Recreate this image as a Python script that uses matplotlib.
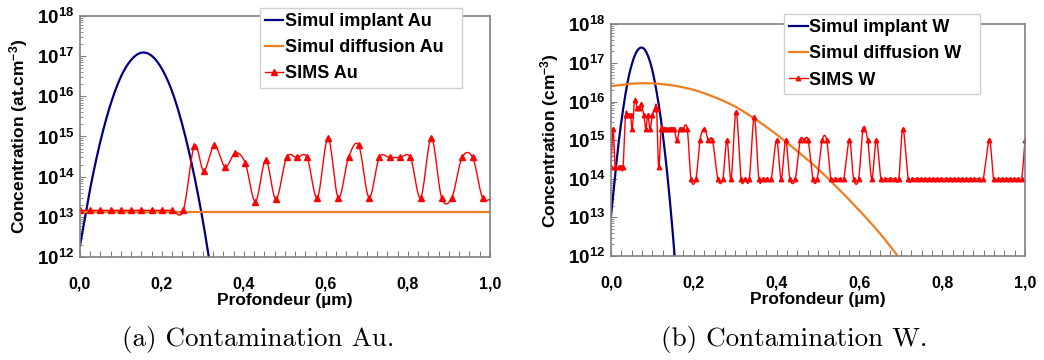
import numpy as np
import matplotlib.pyplot as plt
from matplotlib.ticker import MultipleLocator, FuncFormatter, LogLocator, NullFormatter

# ============================================================
# DATA
# ============================================================
# --- Au ---
au_implant_x = [0.000, 0.025, 0.050, 0.075, 0.100, 0.125, 0.150, 0.175,
                0.200, 0.225, 0.250, 0.275, 0.300, 0.325]
au_implant_y = [1.9e12, 5.1e13, 7.7e14, 6.5e15, 3.1e16, 8.1e16, 1.22e17, 1.02e17,
                4.8e16, 1.3e16, 1.9e15, 1.6e14, 7.7e12, 2.0e11]

au_diff_x = [0.0, 1.0]
au_diff_y = [1.32e13, 1.32e13]

au_sims_x = [0.000, 0.025, 0.050, 0.075, 0.100, 0.125, 0.150, 0.175, 0.200, 0.225,
             0.252, 0.279, 0.302, 0.328, 0.354, 0.379, 0.403, 0.428, 0.453, 0.478,
             0.504, 0.529, 0.554, 0.579, 0.605, 0.630, 0.655, 0.680, 0.705, 0.730,
             0.755, 0.780, 0.806, 0.831, 0.857, 0.882, 0.907, 0.932, 0.958, 0.982,
             1.007]
au_sims_y = [1.45e13, 1.45e13, 1.45e13, 1.45e13, 1.45e13, 1.45e13, 1.45e13, 1.45e13, 1.45e13, 1.45e13,
             1.45e13, 5.9e14, 1.4e14, 6.0e14, 1.75e14, 3.9e14, 2.2e14, 2.4e13, 2.6e14, 2.75e13,
             3.0e14, 3.0e14, 3.0e14, 3.0e13, 9.3e14, 3.0e13, 3.0e14, 6.0e14, 3.0e13, 3.0e14,
             3.0e14, 3.0e14, 3.0e14, 3.0e13, 9.3e14, 3.0e13, 3.0e13, 3.0e14, 3.0e14, 3.0e13,
             3.1e13]

# --- W ---
w_implant_x = [0.00, 0.01, 0.02, 0.03, 0.04, 0.05, 0.06, 0.07, 0.08,
               0.09, 0.10, 0.11, 0.12, 0.13, 0.14, 0.15, 0.16]
w_implant_y = [1.1e13, 1.3e14, 1.2e15, 7.3e15, 3.2e16, 9.1e16, 1.8e17, 2.45e17, 2.3e17,
               1.45e17, 6.3e16, 1.8e16, 3.7e15, 5.0e14, 4.7e13, 3.0e12, 1.3e11]

w_diff_x = [0.00, 0.05, 0.10, 0.15, 0.20, 0.25, 0.30, 0.35,
            0.40, 0.45, 0.50, 0.55, 0.60, 0.65, 0.70]
w_diff_y = [2.5e16, 2.9e16, 2.95e16, 2.6e16, 2.0e16, 1.3e16, 7.4e15, 3.4e15,
            1.4e15, 5.2e14, 1.8e14, 5.4e13, 1.5e13, 3.8e12, 7.9e11]

w_sims_x = [0.000, 0.005, 0.010, 0.018, 0.024, 0.029, 0.035, 0.041, 0.047, 0.051,
            0.057, 0.063, 0.068, 0.073, 0.079, 0.084, 0.089, 0.094, 0.100, 0.105,
            0.110, 0.115, 0.121, 0.127, 0.133, 0.139, 0.145, 0.152, 0.159, 0.166,
            0.173, 0.184, 0.193, 0.205, 0.215, 0.225, 0.235, 0.245, 0.258, 0.270,
            0.280, 0.290, 0.302, 0.314, 0.324, 0.334, 0.346, 0.357, 0.367, 0.377,
            0.387, 0.400, 0.411, 0.422, 0.432, 0.445, 0.457, 0.466, 0.476, 0.488,
            0.498, 0.510, 0.521, 0.531, 0.542, 0.552, 0.562, 0.576, 0.586, 0.598,
            0.609, 0.620, 0.630, 0.641, 0.652, 0.662, 0.673, 0.685, 0.695, 0.705,
            0.718, 0.728, 0.738, 0.748, 0.758, 0.768, 0.778, 0.788, 0.798, 0.808,
            0.818, 0.828, 0.838, 0.848, 0.858, 0.868, 0.878, 0.888, 0.899, 0.914,
            0.924, 0.934, 0.944, 0.954, 0.964, 0.974, 0.984, 0.992, 1.000]
w_sims_y = [2e14, 2e15, 2e14, 2e14, 2e14, 2e14, 4.5e15, 4.5e15, 4.5e15, 2e15,
            1.1e16, 7e15, 7e15, 8.5e15, 4.5e15, 2e15, 4.5e15, 2e15, 4.5e15, 6.5e15,
            6.5e15, 2e14, 2e15, 2e15, 2e15, 2e15, 2e15, 2e15, 1e15, 2e15,
            2e15, 2e15, 1e14, 1e14, 1e15, 2e15, 1e15, 1e15, 1e14, 1e14,
            1e15, 1e14, 5.5e15, 1e14, 1e14, 1e14, 4e15, 1e14, 1e14, 1e14,
            1e14, 1e15, 1e14, 1e15, 1e14, 1e14, 1e15, 1e15, 1e15, 1e14,
            1e14, 1e15, 1e15, 1e14, 1e14, 1e14, 1e14, 1e15, 1e14, 1e14,
            2e15, 1e15, 1e14, 1e15, 1e14, 1e14, 1e14, 1e14, 1e14, 2e15,
            1e14, 1e14, 1e14, 1e14, 1e14, 1e14, 1e14, 1e14, 1e14, 1e14,
            1e14, 1e14, 1e14, 1e14, 1e14, 1e14, 1e14, 1e14, 1e14, 1e15,
            1e14, 1e14, 1e14, 1e14, 1e14, 1e14, 1e14, 1e14, 1e15]

captions = ['(a) Contamination Au.', '(b) Contamination W.']

# ============================================================
# STYLE
# ============================================================
plt.rcParams['font.family'] = ['Liberation Sans', 'DejaVu Sans']
plt.rcParams['font.weight'] = 'bold'
plt.rcParams['mathtext.fontset'] = 'custom'
plt.rcParams['mathtext.rm'] = 'Liberation Sans:bold'
plt.rcParams['mathtext.bf'] = 'Liberation Sans:bold'
plt.rcParams['mathtext.it'] = 'Liberation Sans:bold:italic'

C_IMPL = '#000080'
C_DIFF = '#ee7d22'
C_SIMS = '#ff0000'
C_AXIS = '#808080'


def smooth(x, y, n=16):
    """Excel-like smoothed line (Catmull-Rom in log space)."""
    x = np.asarray(x, float)
    ly = np.log10(np.asarray(y, float))
    px = np.concatenate([[x[0]], x, [x[-1]]])
    py = np.concatenate([[ly[0]], ly, [ly[-1]]])
    t = np.linspace(0, 1, n, endpoint=False)[:, None]
    out = []
    for p in (px, py):
        p0, p1, p2, p3 = p[:-3], p[1:-2], p[2:-1], p[3:]
        seg = 0.5 * (2 * p1 + (-p0 + p2) * t + (2 * p0 - 5 * p1 + 4 * p2 - p3) * t ** 2
                     + (-p0 + 3 * p1 - 3 * p2 + p3) * t ** 3)
        out.append(np.concatenate([seg.T.ravel(), [p[-2]]]))
    return out[0], 10 ** out[1]


def panel(ax, impl, diff, sims, ylabel, labels, ms, leg_anchor):
    xs, ys = smooth(*impl)
    l1, = ax.plot(xs, ys, color=C_IMPL, lw=1.6)
    xs, ys = smooth(*diff)
    l2, = ax.plot(xs, ys, color=C_DIFF, lw=1.6)
    xs, ys = smooth(*sims)
    ax.plot(xs, ys, color=C_SIMS, lw=1.0)
    ax.plot(sims[0], sims[1], ls='none', marker='^', ms=ms, color=C_SIMS)
    l3, = ax.plot([], [], color=C_SIMS, lw=1.0, marker='^', ms=ms)

    ax.set_yscale('log')
    ax.set_xlim(0, 1)
    ax.set_ylim(1e12, 1e18)
    ax.xaxis.set_major_locator(MultipleLocator(0.2))
    ax.xaxis.set_minor_locator(MultipleLocator(0.025))
    ax.xaxis.set_major_formatter(FuncFormatter(lambda v, p: f'{v:.1f}'.replace('.', ',')))
    ax.yaxis.set_major_locator(LogLocator(base=10, numticks=10))
    ax.yaxis.set_minor_locator(LogLocator(base=10, subs=np.arange(2, 10), numticks=10))
    ax.yaxis.set_minor_formatter(NullFormatter())
    ax.yaxis.set_major_formatter(FuncFormatter(
        lambda v, p: f'$10^{{{int(round(np.log10(v)))}}}$'))
    ax.tick_params(axis='x', which='both', direction='in', colors=C_AXIS,
                   labelcolor='black', labelsize=11.5, pad=14, length=4, width=0.8)
    ax.tick_params(axis='y', which='major', direction='in', colors=C_AXIS,
                   labelcolor='black', labelsize=13.5, pad=4, length=4, width=0.8)
    ax.tick_params(axis='y', which='minor', direction='in', colors=C_AXIS,
                   length=2, width=0.6)
    for s in ax.spines.values():
        s.set_color(C_AXIS)
        s.set_linewidth(1.2)

    ax.set_xlabel('Profondeur (µm)', fontsize=12.5, fontweight='bold', labelpad=1)
    ax.set_ylabel(ylabel, fontsize=12.5, fontweight='bold', labelpad=5)

    leg = ax.legend([l1, l2, l3], labels, loc='upper left',
                    bbox_to_anchor=leg_anchor, bbox_transform=fig.transFigure,
                    fontsize=13, frameon=True, fancybox=False, framealpha=1,
                    edgecolor='#d0d0d0', handlelength=1.0, handletextpad=0.1,
                    labelspacing=0.5, borderpad=0.3, borderaxespad=0)
    leg.get_frame().set_linewidth(1.0)
    for t in leg.get_texts():
        t.set_fontweight('bold')


fig = plt.figure(figsize=(10.44, 3.6), dpi=100)
ax1 = fig.add_axes([0.0766, 0.2861, 0.3927, 0.6695])
ax2 = fig.add_axes([0.5853, 0.2889, 0.3965, 0.6435])

panel(ax1, (au_implant_x, au_implant_y), (au_diff_x, au_diff_y), (au_sims_x, au_sims_y),
      'Concentration (at.cm$^{-3}$)',
      ['Simul implant Au     ', 'Simul diffusion Au  ', 'SIMS Au'], 4.0, (0.249, 0.978))
panel(ax2, (w_implant_x, w_implant_y), (w_diff_x, w_diff_y), (w_sims_x, w_sims_y),
      'Concentration (cm$^{-3}$)',
      ['Simul implant W     ', 'Simul diffusion W  ', 'SIMS W'], 3.2, (0.751, 0.961))

fig.text(0.247, 0.056, captions[0], family='cmr10', fontsize=19.5,
         ha='center', va='center', fontweight='normal')
fig.text(0.7605, 0.056, captions[1], family='cmr10', fontsize=19.5,
         ha='center', va='center', fontweight='normal')

fig.savefig('out.png', dpi=100)
